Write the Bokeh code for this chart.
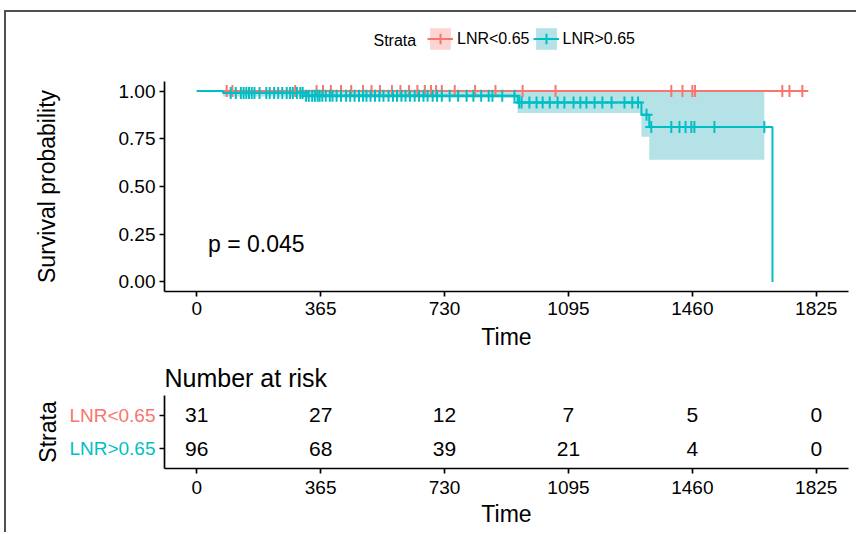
from bokeh.plotting import figure
from bokeh.layouts import column, row
from bokeh.models import (Range1d, FixedTicker, NumeralTickFormatter, Legend,
                          LegendItem, Label, ColumnDataSource)
from bokeh.core.properties import value
from bokeh.embed import file_html
from bokeh.resources import INLINE

FONT = "Liberation Sans"
RED = "#F8766D"
TEAL = "#00BFC4"
RED_FILL = "#FCD5D2"
TEAL_FILL = "#B4E2E6"

# ---------------- data ----------------
strata = ["LNR<0.65", "LNR>0.65"]
time_ticks = [0, 365, 730, 1095, 1460, 1825]
surv_ticks = [0, 0.25, 0.5, 0.75, 1.0]

# LNR<0.65 : no events
red_time = [0, 1784]
red_surv = [1.0, 1.0]
red_band_time = [0, 1784]
red_lower = [1.0, 1.0]
red_upper = [1.0, 1.0]
red_censor = [88, 105, 290, 353,
              372, 395, 425, 455, 490, 515, 540, 575, 600, 625, 650, 672, 690, 705, 722,
              760, 820, 880, 960, 1057,
              1398, 1431,
              1460, 1468, 1725, 1746, 1784]

# LNR>0.65
teal_time = [0, 77, 320, 945, 1310, 1333, 1696]
teal_surv = [1.0, 0.99, 0.976, 0.94, 0.876, 0.812, 0.0]
teal_band_time = [0, 77, 320, 945, 1310, 1333, 1672]
teal_lower = [1.0, 0.972, 0.963, 0.885, 0.76, 0.64, 0.64]
teal_upper = [1.0, 1.0, 1.0, 1.0, 1.0, 1.0, 1.0]
teal_censor = [100, 115, 130, 138, 146, 154, 162, 170, 185, 205, 215, 228, 240,
               252, 265, 275, 283, 295, 305, 312, 322, 330, 340, 348, 356, 362,
               370, 380, 392, 400, 412, 425, 440, 452, 465, 478, 490, 500, 512,
               525, 538, 550, 565, 578, 590, 603, 615, 628, 642, 655, 668, 680,
               695, 708, 722,
               745, 770, 795, 815, 838, 860, 871, 900, 936, 950, 957, 980, 1001,
               1019, 1040, 1063, 1083,
               1110, 1130, 1148, 1172, 1195, 1222, 1260, 1283, 1300, 1325, 1339,
               1398, 1422, 1440, 1457,
               1466, 1525, 1672]

risk_red = [31, 27, 12, 7, 5, 0]
risk_teal = [96, 68, 39, 21, 4, 0]
pval_text = "p = 0.045"
legend_title = "Strata"


def surv_at(times, survs, t):
    s = survs[0]
    for ti, si in zip(times, survs):
        if ti <= t:
            s = si
    return s


red_censor_y = [surv_at(red_time, red_surv, c) for c in red_censor]
teal_censor_y = [surv_at(teal_time, teal_surv, c) for c in teal_censor]


def style_axis(ax, label_size="19px"):
    ax.axis_line_color = "black"
    ax.axis_line_width = 1.7
    ax.major_tick_line_color = "black"
    ax.major_tick_line_width = 1.7
    ax.major_tick_out = 5
    ax.major_tick_in = 0
    ax.minor_tick_line_color = None
    ax.major_label_text_font = FONT
    ax.major_label_text_font_size = label_size
    ax.major_label_text_color = "black"
    ax.axis_label_text_font = FONT
    ax.axis_label_text_font_size = "23px"
    ax.axis_label_text_font_style = "normal"
    ax.axis_label_text_color = "black"


def clean(fig):
    fig.outline_line_color = None
    fig.grid.visible = False
    fig.background_fill_color = "white"
    fig.border_fill_color = "white"


def draw_km(fig):
    out = {}
    out["rb"] = fig.varea_step(x=red_band_time, y1=red_lower, y2=red_upper,
                               step_mode="after", fill_color=RED_FILL)
    out["tb"] = fig.varea_step(x=teal_band_time, y1=teal_lower, y2=teal_upper,
                               step_mode="after", fill_color=TEAL_FILL)
    out["rl"] = fig.step(x=red_time, y=red_surv, mode="after", line_color=RED, line_width=2)
    out["rc"] = fig.scatter(x=red_censor, y=red_censor_y, marker="cross", size=12,
                            line_color=RED, line_width=2)
    out["tl"] = fig.step(x=teal_time, y=teal_surv, mode="after", line_color=TEAL, line_width=2)
    out["tc"] = fig.scatter(x=teal_censor, y=teal_censor_y, marker="cross", size=12,
                            line_color=TEAL, line_width=2)
    return out


def area_legend(fig, color):
    return fig.varea(x=red_band_time, y1=red_lower, y2=red_upper, fill_color=color)


# ---------------- legend strip (frame aligned with the plot frame) ----------------
lg = figure(frame_width=684, frame_height=69,
            min_border_left=158, min_border_right=8, min_border_top=0, min_border_bottom=0,
            x_range=Range1d(0, 684), y_range=Range1d(20, 89),
            x_axis_type=None, y_axis_type=None,
            output_backend="svg", toolbar_location=None)
clean(lg)
# same curves, lying below this strip's range: only their legend glyphs show
lr_band = area_legend(lg, RED_FILL)
lt_band = area_legend(lg, TEAL_FILL)
lk = draw_km(lg)
legend = Legend(items=[LegendItem(label=strata[0], renderers=[lr_band, lk["rl"], lk["rc"]]),
                       LegendItem(label=strata[1], renderers=[lt_band, lk["tl"], lk["tc"]])],
                orientation="horizontal", location=(263, 29),
                glyph_width=26, glyph_height=27, label_standoff=4, spacing=3,
                padding=0, margin=0, border_line_color=None,
                background_fill_alpha=0, label_height=27,
                label_text_font=FONT, label_text_font_size="16px",
                label_text_color="black")
lg.add_layout(legend)
lg.add_layout(Label(x=209, y=61, text=legend_title, text_font=FONT,
                    text_font_size="16px", text_baseline="middle", text_color="black"))

# ---------------- survival plot ----------------
x_range = Range1d(-95, 1920)
p = figure(frame_width=684, frame_height=210,
           min_border_left=158, min_border_right=8,
           min_border_top=0, min_border_bottom=64,
           x_range=x_range, y_range=Range1d(-0.05, 1.05),
           output_backend="svg", toolbar_location=None)
clean(p)
style_axis(p.xaxis[0])
style_axis(p.yaxis[0])
p.xaxis.ticker = FixedTicker(ticks=time_ticks)
p.yaxis.ticker = FixedTicker(ticks=surv_ticks)
p.yaxis.formatter = NumeralTickFormatter(format="0.00")
p.xaxis.axis_label = "Time"
p.yaxis.axis_label = "Survival probability"
p.xaxis.major_label_standoff = 5
p.xaxis.axis_label_standoff = 6
p.yaxis.major_label_standoff = 4
p.yaxis.axis_label_standoff = 56

draw_km(p)

p.add_layout(Label(x=33, y=0.2, text=pval_text, text_font=FONT, text_font_size="23px",
                   text_align="left", text_baseline="middle", text_color="black"))

# ---------------- risk table ----------------
row_y = [2, 1]
tab_y = Range1d(0.4, 2.6)

lf = figure(frame_width=90, frame_height=73,
            min_border_left=60, min_border_right=0,
            min_border_top=40, min_border_bottom=64,
            x_range=Range1d(0, 1), y_range=tab_y, x_axis_type=None,
            output_backend="svg", toolbar_location=None)
clean(lf)
style_axis(lf.yaxis[0])
lf.yaxis.axis_line_color = None
lf.yaxis.major_tick_line_color = None
lf.yaxis.major_tick_out = 0
lf.yaxis.ticker = FixedTicker(ticks=[])
lf.yaxis.major_label_standoff = 0
lf.yaxis.axis_label = "Strata"
lf.yaxis.axis_label_standoff = 6
lab_src = ColumnDataSource(dict(x=[1, 1], y=row_y, txt=strata, col=[RED, TEAL]))
lf.text(x="x", y="y", text="txt", source=lab_src, x_offset=-1,
        text_align="right", text_baseline="middle",
        text_font=value(FONT), text_font_size="19px", text_color="col")

t = figure(frame_width=684, frame_height=73,
           min_border_left=8, min_border_right=8,
           min_border_top=40, min_border_bottom=64,
           x_range=x_range, y_range=tab_y,
           title="Number at risk",
           output_backend="svg", toolbar_location=None)
clean(t)
t.title.text_font = FONT
t.title.text_font_size = "25px"
t.title.text_font_style = "normal"
t.title.text_color = "black"
t.title.align = "left"
t.title.standoff = 8

style_axis(t.xaxis[0])
style_axis(t.yaxis[0])
t.xaxis.ticker = FixedTicker(ticks=time_ticks)
t.yaxis.ticker = FixedTicker(ticks=row_y)
t.yaxis.major_label_overrides = {1: "", 2: ""}
t.yaxis.major_label_standoff = 0
t.xaxis.axis_label = "Time"
t.xaxis.major_label_standoff = 7
t.xaxis.axis_label_standoff = 4

risk_src = ColumnDataSource(dict(
    x=time_ticks + time_ticks,
    y=[row_y[0]] * len(time_ticks) + [row_y[1]] * len(time_ticks),
    txt=[str(v) for v in risk_red] + [str(v) for v in risk_teal]))
t.text(x="x", y="y", text="txt", source=risk_src, text_font=value(FONT),
       text_font_size="21px", text_align="center", text_baseline="middle",
       text_color="black")

layout = column(lg, p, row(lf, t),
                styles={"border-top": "2px solid #505050",
                        "border-left": "2px solid #505050",
                        "margin-left": "4px", "margin-top": "10px"})

open("out.html", "w").write(file_html(layout, INLINE))
